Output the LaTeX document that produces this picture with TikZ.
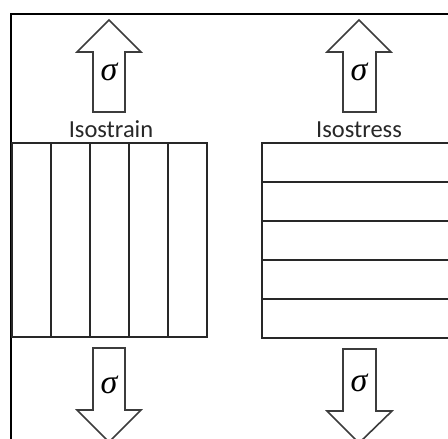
\documentclass[tikz,border=0pt]{standalone}
\usepackage{fontspec}
\setmainfont{Carlito}
\newfontfamily\sigfont{Liberation Serif}
\definecolor{ag}{RGB}{60,60,60}
\definecolor{tg}{RGB}{40,40,40}
\tikzset{
  frameline/.style={line width=1.6pt, black},
  part/.style={line width=1.1pt, draw=tg},
  arrowshape/.style={line width=1.6pt, draw=ag, fill=white, line join=miter},
  lbl/.style={font=\fontsize{24.5}{26}\selectfont, text=tg, inner sep=0pt, anchor=base},
  sig/.style={font=\sigfont\itshape\fontsize{34}{34}\selectfont, inner sep=0pt}
}
\begin{document}
\begin{tikzpicture}[x=1pt,y=-1pt]
\useasboundingbox (0,0) rectangle (448,439);
\clip (0,0) rectangle (448,439);
\fill[white] (0,0) rectangle (448,439);
% frame
\draw[frameline] (11,440) -- (11,14) -- (449,14);
% up arrows
\draw[arrowshape] (109,20) -- (141,52) -- (125,52) -- (125,112) -- (93,112) -- (93,52) -- (77,52) -- cycle;
\draw[arrowshape] (359,20) -- (391,52) -- (376,52) -- (376,112) -- (343,112) -- (343,52) -- (327,52) -- cycle;
% down arrows
\draw[arrowshape] (109,442) -- (141,410) -- (125,410) -- (125,348) -- (93,348) -- (93,410) -- (77,410) -- cycle;
\draw[arrowshape] (359,443) -- (392,411) -- (376,411) -- (376,349) -- (343,349) -- (343,411) -- (327,411) -- cycle;
\node[sig] (s1) at (109,72) {σ};
\node[sig] (s2) at (359,72) {σ};
\node[sig] (s3) at (109,385) {σ};
\node[sig] (s4) at (359,383) {σ};
% labels
\node[lbl] (iso1) at (111,137) {Isostrain};
\node[lbl] (iso2) at (359,137) {Isostress};
% isostrain box
\draw[part] (12,143) rectangle (207,337);
\foreach \x in {51,90,129,168} \draw[part] (\x,143) -- (\x,337);
% isostress box
\draw[part] (460,143) -- (262,143) -- (262,338) -- (460,338);
\foreach \y in {182,221,260,299} \draw[part] (262,\y) -- (460,\y);
\end{tikzpicture}
\end{document}
